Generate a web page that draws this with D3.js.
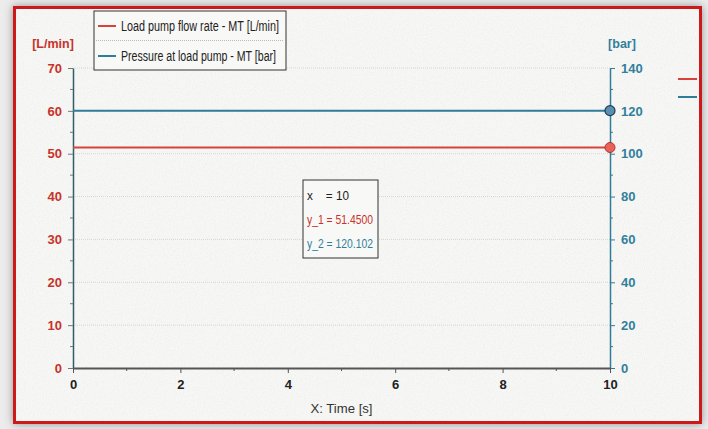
<!DOCTYPE html>
<html>
<head>
<meta charset="utf-8">
<script src="https://cdn.jsdelivr.net/npm/d3@7"></script>
<style>
  body { margin: 0; background: #e9e9e9; }
  svg { display: block; }
  text { font-family: "Liberation Sans", Arial, sans-serif; }
</style>
</head>
<body>
<div id="chart"></div>
<script>
// data
var times = [0, 10];
var flowRate = [51.45, 51.45];      // [L/min], left axis
var pressure = [120.102, 120.102];  // [bar], right axis
var xTicks = [0, 2, 4, 6, 8, 10];
var leftTicks = [0, 10, 20, 30, 40, 50, 60, 70];
var rightTicks = [0, 20, 40, 60, 80, 100, 120, 140];
var seriesNames = ["Load pump flow rate - MT [L/min]", "Pressure at load pump - MT [bar]"];
var readout = ["x    = 10", "y_1 = 51.4500", "y_2 = 120.102"];

var red = "#d8423a", teal = "#2f7d98", redText = "#c8322a", tealText = "#327f9c";

var width = 708, height = 429;
var margin = {top: 68, left: 73};

var svg = d3.select("#chart").append("svg")
    .attr("width", width).attr("height", height);

// paper texture + frame
var defs = svg.append("defs");
var f = defs.append("filter").attr("id", "paper").attr("x", 0).attr("y", 0).attr("width", 1).attr("height", 1);
f.append("feTurbulence").attr("type", "fractalNoise").attr("baseFrequency", "0.9 0.6").attr("numOctaves", 2).attr("result", "n");
f.append("feColorMatrix").attr("type", "matrix")
  .attr("values", "0 0 0 0 0.55  0 0 0 0 0.55  0 0 0 0 0.55  0 0 0 -0.9 0.55").attr("in", "n").attr("result", "m");
f.append("feComposite").attr("in", "m").attr("in2", "SourceGraphic").attr("operator", "in");
var sh = defs.append("filter").attr("id", "shadow").attr("x", -0.05).attr("y", -0.05).attr("width", 1.1).attr("height", 1.1);
sh.append("feDropShadow").attr("dx", 0).attr("dy", 0).attr("stdDeviation", 4).attr("flood-color", "#555").attr("flood-opacity", 0.6);

svg.append("rect").attr("width", width).attr("height", height).attr("fill", "#ececec");
svg.append("rect").attr("x", 13).attr("y", 6).attr("width", 689).attr("height", 418)
    .attr("fill", "#f7f7f5").attr("filter", "url(#shadow)");
svg.append("rect").attr("x", 13).attr("y", 6).attr("width", 689).attr("height", 418)
    .attr("fill", "#f7f7f5").attr("filter", "url(#paper)").attr("opacity", 0.35);
svg.append("rect").attr("x", 14.5).attr("y", 7.5).attr("width", 686).attr("height", 415)
    .attr("fill", "none").attr("stroke", "#cc1a1a").attr("stroke-width", 3);

var x = d3.scaleLinear().domain([0, 10]).range([0, 537]);
var yL = d3.scaleLinear().domain([0, 70]).range([300, 0]);
var yR = d3.scaleLinear().domain([0, 140]).range([300, 0]);

var g = svg.append("g").attr("transform", "translate(" + margin.left + "," + margin.top + ")");

// faint gridlines
g.append("g").selectAll("line").data(leftTicks.slice(1)).enter().append("line")
    .attr("x1", 0).attr("x2", x(10))
    .attr("y1", function(d) { return yL(d); }).attr("y2", function(d) { return yL(d); })
    .attr("stroke", "#d6d6d2").attr("stroke-width", 1).attr("stroke-dasharray", "1,1");

// left axis
var la = g.append("g").attr("class", "y axis")
    .call(d3.axisLeft(yL).tickValues(leftTicks).tickSize(5).tickPadding(6).tickSizeOuter(0));
la.select(".domain").attr("stroke", "#2d5e6c").attr("stroke-width", 1.5);
la.selectAll(".tick line").attr("stroke", "#777");
la.selectAll("text").attr("fill", redText).attr("font-size", 13).attr("font-weight", "bold");
g.append("g").selectAll("line").data(d3.range(5, 70, 10)).enter().append("line")
    .attr("x1", -3).attr("x2", 0)
    .attr("y1", function(d) { return yL(d); }).attr("y2", function(d) { return yL(d); })
    .attr("stroke", "#777");

// right axis
var ra = g.append("g").attr("class", "y axis right")
    .attr("transform", "translate(" + x(10) + ",0)")
    .call(d3.axisRight(yR).tickValues(rightTicks).tickSize(5).tickPadding(6).tickSizeOuter(0));
ra.select(".domain").attr("stroke", teal).attr("stroke-width", 1.5);
ra.selectAll(".tick line").attr("stroke", teal);
ra.selectAll("text").attr("fill", tealText).attr("font-size", 13).attr("font-weight", "bold");
g.append("g").selectAll("line").data(d3.range(10, 140, 20)).enter().append("line")
    .attr("x1", x(10)).attr("x2", x(10) + 3)
    .attr("y1", function(d) { return yR(d); }).attr("y2", function(d) { return yR(d); })
    .attr("stroke", teal);

// x axis
var xa = g.append("g").attr("class", "x axis")
    .attr("transform", "translate(0," + yL(0) + ")")
    .call(d3.axisBottom(x).tickValues(xTicks).tickSize(5).tickPadding(7).tickSizeOuter(0));
xa.select(".domain").attr("stroke", "#555").attr("stroke-width", 2);
xa.selectAll(".tick line").attr("stroke", "#555");
xa.selectAll("text").attr("fill", "#222").attr("font-size", 13).attr("font-weight", "bold");
g.append("g").selectAll("line").data([1, 3, 5, 7, 9]).enter().append("line")
    .attr("x1", function(d) { return x(d); }).attr("x2", function(d) { return x(d); })
    .attr("y1", yL(0)).attr("y2", yL(0) + 3).attr("stroke", "#555");

// axis titles
g.append("text").attr("x", -20).attr("y", -20).attr("text-anchor", "middle")
    .attr("fill", redText).attr("font-size", 12.5).attr("font-weight", "bold").text("[L/min]");
g.append("text").attr("x", x(10) + 12).attr("y", -20).attr("text-anchor", "middle")
    .attr("fill", tealText).attr("font-size", 12.5).attr("font-weight", "bold").text("[bar]");
g.append("text").attr("x", x(5)).attr("y", yL(0) + 45).attr("text-anchor", "middle")
    .attr("fill", "#333").attr("font-size", 13.5).attr("textLength", 62).attr("lengthAdjust", "spacingAndGlyphs")
    .text("X: Time [s]");

// series
var lineL = d3.line().x(function(d, i) { return x(times[i]); }).y(function(d) { return yL(d); });
var lineR = d3.line().x(function(d, i) { return x(times[i]); }).y(function(d) { return yR(d); });
g.append("path").datum(pressure).attr("d", lineR).attr("fill", "none").attr("stroke", teal).attr("stroke-width", 2);
g.append("path").datum(flowRate).attr("d", lineL).attr("fill", "none").attr("stroke", red).attr("stroke-width", 2);

// cursor markers
g.append("circle").attr("cx", x(times[1])).attr("cy", yR(pressure[1])).attr("r", 5)
    .attr("fill", "#5a8fb0").attr("stroke", "#1f3f55").attr("stroke-width", 1.2);
g.append("circle").attr("cx", x(times[1])).attr("cy", yL(flowRate[1])).attr("r", 5)
    .attr("fill", "#e8625a").attr("stroke", "#b03030").attr("stroke-width", 1);

// legend
var lg = svg.append("g").attr("transform", "translate(94,11)");
lg.append("rect").attr("width", 192).attr("height", 59).attr("fill", "#f8f8f6")
    .attr("stroke", "#333").attr("stroke-width", 1);
lg.append("line").attr("x1", 2).attr("x2", 190).attr("y1", 29.5).attr("y2", 29.5)
    .attr("stroke", "#bbb").attr("stroke-dasharray", "1,1");
[red, teal].forEach(function(c, i) {
  var yy = 15 + i * 30;
  lg.append("line").attr("x1", 4).attr("x2", 22).attr("y1", yy).attr("y2", yy)
      .attr("stroke", c).attr("stroke-width", 2);
  lg.append("text").attr("x", 27).attr("y", yy + 5).attr("fill", "#222")
      .attr("font-size", 14).attr("textLength", i === 0 ? 158 : 155).attr("lengthAdjust", "spacingAndGlyphs")
      .text(seriesNames[i]);
});

// right-edge legend stubs
[red, teal].forEach(function(c, i) {
  svg.append("line").attr("x1", 678).attr("x2", 697).attr("y1", 79 + i * 18).attr("y2", 79 + i * 18)
      .attr("stroke", c).attr("stroke-width", 2);
});

// readout box
var rb = svg.append("g").attr("transform", "translate(303,180)");
rb.append("rect").attr("width", 75).attr("height", 78).attr("fill", "#f8f8f6")
    .attr("stroke", "#333").attr("stroke-width", 1);
var rcol = ["#222", redText, tealText];
var rlen = [42, 66, 66];
readout.forEach(function(t, i) {
  rb.append("text").attr("x", 4).attr("y", 20 + i * 24).attr("fill", rcol[i])
      .attr("font-size", 13.5).attr("textLength", rlen[i]).attr("lengthAdjust", "spacingAndGlyphs")
      .style("white-space", "pre").text(t);
});
</script>
</body>
</html>
